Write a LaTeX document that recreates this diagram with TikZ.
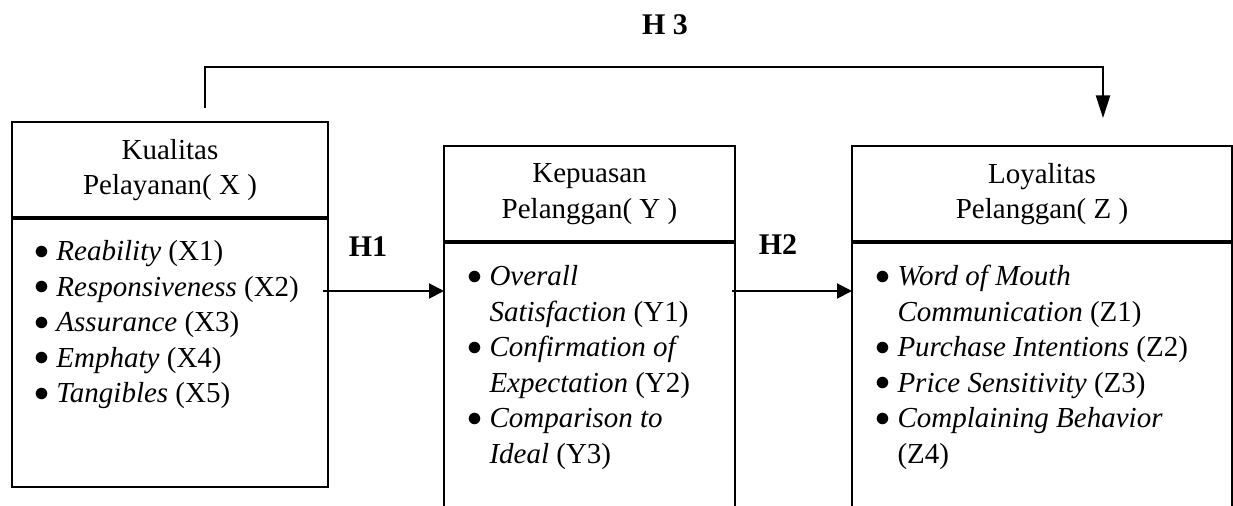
\documentclass[tikz,border=0pt]{standalone}
\usepackage{fontspec}
\setmainfont{Liberation Serif}
\usepackage{tikz}
\usetikzlibrary{positioning, arrows.meta}
\tikzset{
    headbox/.style={
        rectangle,
        draw,
        line width=0.8pt,
        minimum height=38.4pt,
        inner sep=0,
        outer sep=0,
        align=center
    },
    bodybox/.style={
        rectangle,
        draw,
        line width=0.8pt,
        inner sep=0,
        outer sep=0
    },
    itemlist/.style={
        anchor=north west,
        inner sep=0,
        align=left
    },
    hyplabel/.style={
        font=\fontsize{12pt}{14pt}\selectfont\bfseries
    },
    arr/.style={
        -{Triangle[length=6pt,width=6pt]},
        line width=0.8pt
    },
    bigarr/.style={
        -{Triangle[length=9pt,width=5.6pt]},
        line width=0.8pt
    }
}
\newcommand{\pitem}[1]{\makebox[8.8pt][l]{\raisebox{0.6pt}{$\bullet$}}#1}
\newcommand{\pcont}[1]{\hspace*{8.8pt}#1}

\begin{document}
\begin{tikzpicture}[
                x=0.4pt, y=-0.4pt,
                font=\fontsize{11.6pt}{14.2pt}\selectfont
            ]
            \useasboundingbox (0,0) rectangle (1233,506);
            \clip (0,0) rectangle (1233,506);
            % kotak variabel
            \node[headbox, minimum width=126.4pt, anchor=north west] (xhead) at (12,122) {Kualitas\\Pelayanan( X )};
            \node[bodybox, minimum width=126.4pt, minimum height=107.6pt, below=0pt of xhead] (xbody) {};
            \node[headbox, minimum width=116.4pt, anchor=north west] (yhead) at (444,146) {Kepuasan\\Pelanggan( Y )};
            \node[bodybox, minimum width=116.4pt, minimum height=120pt, below=0pt of yhead] (ybody) {};
            \node[headbox, minimum width=152pt, anchor=north west] (zhead) at (852,146) {Loyalitas\\Pelanggan( Z )};
            \node[bodybox, minimum width=152pt, minimum height=120pt, below=0pt of zhead] (zbody) {};
            \draw[line width=1.6pt] (xhead.south west) -- (xhead.south east);
            \draw[line width=1.6pt] (yhead.south west) -- (yhead.south east);
            \draw[line width=1.6pt] (zhead.south west) -- (zhead.south east);
            % indikator
            \node[itemlist] (xlist) at ([shift={(22,22)}]xbody.north west) {
                \pitem{\textit{Reability} (X1)}\\
                \pitem{\textit{Responsiveness} (X2)}\\
                \pitem{\textit{Assurance} (X3)}\\
                \pitem{\textit{Emphaty} (X4)}\\
                \pitem{\textit{Tangibles} (X5)}
            };
            \node[itemlist] (ylist) at ([shift={(23,23)}]ybody.north west) {
                \pitem{\textit{Overall}}\\
                \pcont{\textit{Satisfaction} (Y1)}\\
                \pitem{\textit{Confirmation of}}\\
                \pcont{\textit{Expectation} (Y2)}\\
                \pitem{\textit{Comparison to}}\\
                \pcont{\textit{Ideal} (Y3)}
            };
            \node[itemlist] (zlist) at ([shift={(23,23)}]zbody.north west) {
                \pitem{\textit{Word of Mouth}}\\
                \pcont{\textit{Communication} (Z1)}\\
                \pitem{\textit{Purchase Intentions} (Z2)}\\
                \pitem{\textit{Price Sensitivity} (Z3)}\\
                \pitem{\textit{Complaining Behavior}}\\
                \pcont{(Z4)}
            };
            % hipotesis
            \node[hyplabel] (h1) at (368,247) {H1};
            \node[hyplabel] (h2) at (778,245) {H2};
            \node[hyplabel] (h3) at (665,25) {H 3};
            \coordinate (h1y) at (0,291);
            \coordinate (h3from) at (205,108);
            \coordinate (h3to) at (1103,118);
            \draw[arr] (xbody.east |- h1y) ++(-5,0) -- (ybody.west |- h1y);
            \draw[arr] (ybody.east |- h1y) ++(-3,0) -- (zbody.west |- h1y);
            \draw[bigarr] (h3from) -- ++(0,-41) -| (h3to);
\end{tikzpicture}
\end{document}
